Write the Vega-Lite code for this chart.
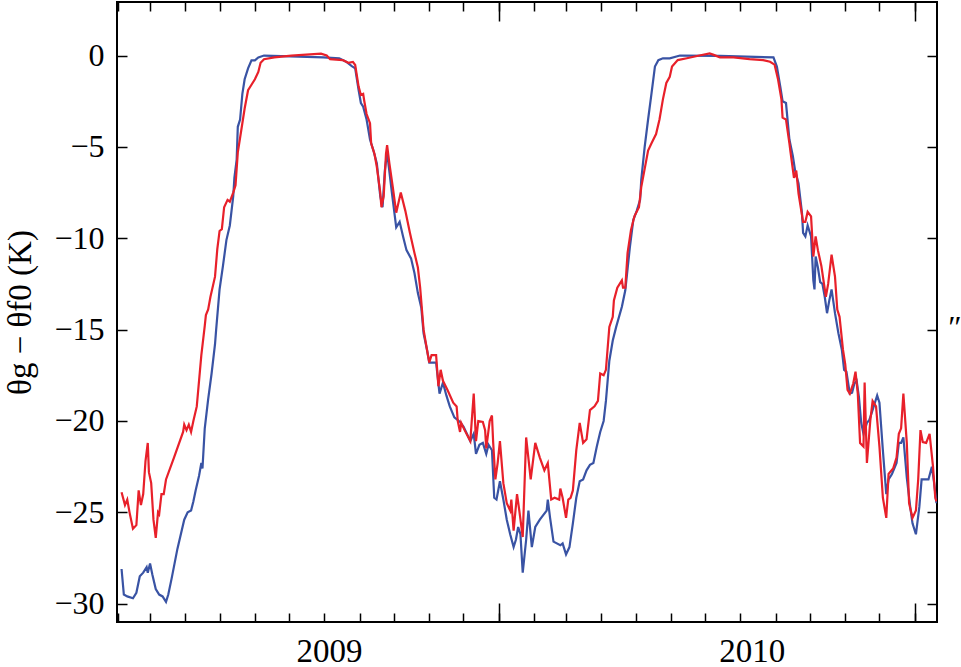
{
  "$schema": "https://vega.github.io/schema/vega-lite/v6.json",
  "width": 820,
  "height": 620,
  "autosize": {"type": "none"},
  "padding": {"left": 117, "top": 2, "right": 24, "bottom": 45},
  "config": {
    "font": "Times New Roman, Liberation Serif, DejaVu Serif, serif",
    "view": {"stroke": "black", "strokeWidth": 2},
    "axis": {
      "grid": false,
      "domain": false,
      "tickColor": "black",
      "tickWidth": 1.5,
      "labelFont": "Times New Roman, Liberation Serif, DejaVu Serif, serif",
      "titleFont": "Times New Roman, Liberation Serif, DejaVu Serif, serif",
      "labelColor": "black",
      "titleColor": "black",
      "titleFontWeight": "normal"
    }
  },
  "datasets": {
    "s1": [
      {"date": "2009-02-04", "value": -28.1}, {"date": "2009-02-06", "value": -29.5}, {"date": "2009-02-09", "value": -29.6},
      {"date": "2009-02-14", "value": -29.7}, {"date": "2009-02-17", "value": -29.4}, {"date": "2009-02-20", "value": -28.5},
      {"date": "2009-02-23", "value": -28.3}, {"date": "2009-02-26", "value": -28.0}, {"date": "2009-02-27", "value": -28.3},
      {"date": "2009-03-01", "value": -27.8}, {"date": "2009-03-03", "value": -28.4}, {"date": "2009-03-06", "value": -29.2},
      {"date": "2009-03-09", "value": -29.5}, {"date": "2009-03-12", "value": -29.6}, {"date": "2009-03-15", "value": -29.9},
      {"date": "2009-03-17", "value": -29.5}, {"date": "2009-03-20", "value": -28.6}, {"date": "2009-03-25", "value": -27.0},
      {"date": "2009-03-31", "value": -25.4}, {"date": "2009-04-03", "value": -25.0}, {"date": "2009-04-06", "value": -24.9},
      {"date": "2009-04-08", "value": -24.4}, {"date": "2009-04-10", "value": -23.8}, {"date": "2009-04-13", "value": -23.0},
      {"date": "2009-04-15", "value": -22.3}, {"date": "2009-04-16", "value": -22.6}, {"date": "2009-04-18", "value": -20.4},
      {"date": "2009-04-21", "value": -18.8}, {"date": "2009-04-24", "value": -17.4}, {"date": "2009-04-27", "value": -15.8},
      {"date": "2009-04-28", "value": -15.0}, {"date": "2009-05-01", "value": -12.8}, {"date": "2009-05-04", "value": -11.5},
      {"date": "2009-05-07", "value": -10.1}, {"date": "2009-05-10", "value": -9.3}, {"date": "2009-05-13", "value": -7.7},
      {"date": "2009-05-14", "value": -6.7}, {"date": "2009-05-16", "value": -5.7}, {"date": "2009-05-17", "value": -3.9},
      {"date": "2009-05-19", "value": -3.5}, {"date": "2009-05-21", "value": -2.1}, {"date": "2009-05-23", "value": -1.3},
      {"date": "2009-05-26", "value": -0.7}, {"date": "2009-05-29", "value": -0.26}, {"date": "2009-06-01", "value": -0.26},
      {"date": "2009-06-04", "value": -0.1}, {"date": "2009-06-09", "value": 0}, {"date": "2009-07-02", "value": -0.05},
      {"date": "2009-07-31", "value": -0.1}, {"date": "2009-08-14", "value": -0.15}, {"date": "2009-08-20", "value": -0.34},
      {"date": "2009-08-25", "value": -0.58}, {"date": "2009-08-28", "value": -0.7}, {"date": "2009-08-31", "value": -1.89},
      {"date": "2009-09-02", "value": -2.6}, {"date": "2009-09-04", "value": -2.8}, {"date": "2009-09-07", "value": -3.5},
      {"date": "2009-09-10", "value": -4.6}, {"date": "2009-09-13", "value": -5.2}, {"date": "2009-09-16", "value": -5.9},
      {"date": "2009-09-19", "value": -7.7}, {"date": "2009-09-21", "value": -8.3}, {"date": "2009-09-23", "value": -6.3},
      {"date": "2009-09-25", "value": -5.3}, {"date": "2009-09-29", "value": -7.4}, {"date": "2009-10-03", "value": -9.4},
      {"date": "2009-10-06", "value": -9.1}, {"date": "2009-10-09", "value": -9.9}, {"date": "2009-10-12", "value": -10.65},
      {"date": "2009-10-16", "value": -11.1}, {"date": "2009-10-19", "value": -11.9}, {"date": "2009-10-22", "value": -13.0},
      {"date": "2009-10-25", "value": -13.8}, {"date": "2009-10-27", "value": -15.2}, {"date": "2009-10-30", "value": -16.1},
      {"date": "2009-11-01", "value": -16.8}, {"date": "2009-11-07", "value": -16.8}, {"date": "2009-11-10", "value": -18.5},
      {"date": "2009-11-13", "value": -17.9}, {"date": "2009-11-16", "value": -18.6}, {"date": "2009-11-19", "value": -19.2},
      {"date": "2009-11-23", "value": -19.8}, {"date": "2009-11-28", "value": -20.05}, {"date": "2009-12-01", "value": -20.3},
      {"date": "2009-12-04", "value": -20.7}, {"date": "2009-12-07", "value": -21.1}, {"date": "2009-12-10", "value": -20.7},
      {"date": "2009-12-12", "value": -21.8}, {"date": "2009-12-15", "value": -21.3}, {"date": "2009-12-18", "value": -21.2},
      {"date": "2009-12-21", "value": -21.8}, {"date": "2009-12-23", "value": -21.3}, {"date": "2009-12-26", "value": -21.6},
      {"date": "2009-12-28", "value": -24.2}, {"date": "2009-12-30", "value": -24.3}, {"date": "2010-01-02", "value": -23.3},
      {"date": "2010-01-05", "value": -24.3}, {"date": "2010-01-08", "value": -25.4}, {"date": "2010-01-11", "value": -26.2},
      {"date": "2010-01-14", "value": -26.9}, {"date": "2010-01-16", "value": -26.5}, {"date": "2010-01-18", "value": -25.8},
      {"date": "2010-01-20", "value": -26.2}, {"date": "2010-01-22", "value": -28.3}, {"date": "2010-01-25", "value": -26.5},
      {"date": "2010-01-27", "value": -24.9}, {"date": "2010-01-30", "value": -26.9}, {"date": "2010-02-02", "value": -25.8},
      {"date": "2010-02-06", "value": -25.4}, {"date": "2010-02-12", "value": -24.9}, {"date": "2010-02-13", "value": -24.3},
      {"date": "2010-02-15", "value": -25.3}, {"date": "2010-02-18", "value": -26.6}, {"date": "2010-02-24", "value": -26.8},
      {"date": "2010-02-26", "value": -26.7}, {"date": "2010-03-01", "value": -27.3}, {"date": "2010-03-04", "value": -26.9},
      {"date": "2010-03-07", "value": -25.6}, {"date": "2010-03-10", "value": -24.2}, {"date": "2010-03-13", "value": -23.3},
      {"date": "2010-03-16", "value": -23.2}, {"date": "2010-03-19", "value": -22.7}, {"date": "2010-03-22", "value": -22.4},
      {"date": "2010-03-25", "value": -22.3}, {"date": "2010-03-28", "value": -21.4}, {"date": "2010-03-31", "value": -20.6},
      {"date": "2010-04-03", "value": -20.0}, {"date": "2010-04-05", "value": -18.9}, {"date": "2010-04-08", "value": -16.7},
      {"date": "2010-04-11", "value": -15.6}, {"date": "2010-04-14", "value": -14.85}, {"date": "2010-04-19", "value": -13.75},
      {"date": "2010-04-22", "value": -12.85}, {"date": "2010-04-26", "value": -10.5}, {"date": "2010-04-29", "value": -9.0},
      {"date": "2010-05-02", "value": -8.5}, {"date": "2010-05-05", "value": -7.9}, {"date": "2010-05-06", "value": -6.8},
      {"date": "2010-05-09", "value": -5.0}, {"date": "2010-05-12", "value": -3.5}, {"date": "2010-05-15", "value": -2.07},
      {"date": "2010-05-18", "value": -0.6}, {"date": "2010-05-21", "value": -0.25}, {"date": "2010-05-25", "value": -0.15},
      {"date": "2010-05-31", "value": -0.15}, {"date": "2010-06-09", "value": 0}, {"date": "2010-07-14", "value": -0.02},
      {"date": "2010-08-30", "value": -0.1}, {"date": "2010-09-02", "value": -0.6}, {"date": "2010-09-05", "value": -1.7},
      {"date": "2010-09-07", "value": -2.5}, {"date": "2010-09-10", "value": -2.6}, {"date": "2010-09-13", "value": -4.6},
      {"date": "2010-09-16", "value": -5.5}, {"date": "2010-09-18", "value": -6.3}, {"date": "2010-09-21", "value": -7.0},
      {"date": "2010-09-24", "value": -8.6}, {"date": "2010-09-25", "value": -9.7}, {"date": "2010-09-27", "value": -9.9},
      {"date": "2010-09-29", "value": -9.3}, {"date": "2010-10-02", "value": -9.9}, {"date": "2010-10-04", "value": -12.3},
      {"date": "2010-10-05", "value": -12.8}, {"date": "2010-10-06", "value": -11.0}, {"date": "2010-10-08", "value": -11.6},
      {"date": "2010-10-10", "value": -12.4}, {"date": "2010-10-12", "value": -12.5}, {"date": "2010-10-14", "value": -13.2},
      {"date": "2010-10-16", "value": -14.1}, {"date": "2010-10-18", "value": -13.4}, {"date": "2010-10-20", "value": -12.8},
      {"date": "2010-10-23", "value": -14.1}, {"date": "2010-10-26", "value": -15.2}, {"date": "2010-10-29", "value": -16.1},
      {"date": "2010-10-31", "value": -17.2}, {"date": "2010-11-02", "value": -17.3}, {"date": "2010-11-05", "value": -18.5},
      {"date": "2010-11-07", "value": -18.45}, {"date": "2010-11-09", "value": -17.95}, {"date": "2010-11-11", "value": -17.8},
      {"date": "2010-11-13", "value": -18.7}, {"date": "2010-11-15", "value": -20.1}, {"date": "2010-11-17", "value": -20.7},
      {"date": "2010-11-20", "value": -20.1}, {"date": "2010-11-22", "value": -19.96}, {"date": "2010-11-24", "value": -19.6},
      {"date": "2010-11-27", "value": -19.0}, {"date": "2010-11-29", "value": -18.6}, {"date": "2010-12-01", "value": -19.0},
      {"date": "2010-12-04", "value": -21.6}, {"date": "2010-12-07", "value": -24.0}, {"date": "2010-12-09", "value": -23.2},
      {"date": "2010-12-12", "value": -22.9}, {"date": "2010-12-16", "value": -22.3}, {"date": "2010-12-18", "value": -21.2},
      {"date": "2010-12-20", "value": -21.2}, {"date": "2010-12-22", "value": -20.9}, {"date": "2010-12-25", "value": -23.1},
      {"date": "2010-12-28", "value": -24.7}, {"date": "2010-12-30", "value": -25.6}, {"date": "2011-01-02", "value": -26.2},
      {"date": "2011-01-05", "value": -24.7}, {"date": "2011-01-07", "value": -23.2}, {"date": "2011-01-13", "value": -23.2},
      {"date": "2011-01-16", "value": -22.5}, {"date": "2011-01-18", "value": -23.4}, {"date": "2011-01-20", "value": -24.5}
    ],
    "s2": [
      {"date": "2009-02-04", "value": -23.9}, {"date": "2009-02-07", "value": -24.6}, {"date": "2009-02-09", "value": -24.3},
      {"date": "2009-02-11", "value": -25.0}, {"date": "2009-02-14", "value": -25.9}, {"date": "2009-02-17", "value": -25.7},
      {"date": "2009-02-19", "value": -23.8}, {"date": "2009-02-21", "value": -24.6}, {"date": "2009-02-23", "value": -24.0},
      {"date": "2009-02-25", "value": -22.2}, {"date": "2009-02-27", "value": -21.2}, {"date": "2009-02-28", "value": -22.8},
      {"date": "2009-03-02", "value": -23.4}, {"date": "2009-03-04", "value": -25.4}, {"date": "2009-03-06", "value": -26.4},
      {"date": "2009-03-08", "value": -25.0}, {"date": "2009-03-09", "value": -25.1}, {"date": "2009-03-11", "value": -24.0},
      {"date": "2009-03-13", "value": -24.0}, {"date": "2009-03-15", "value": -23.2}, {"date": "2009-03-22", "value": -22.0},
      {"date": "2009-03-30", "value": -20.6}, {"date": "2009-03-31", "value": -20.2}, {"date": "2009-04-02", "value": -20.5},
      {"date": "2009-04-04", "value": -20.2}, {"date": "2009-04-06", "value": -20.6}, {"date": "2009-04-08", "value": -20.0},
      {"date": "2009-04-11", "value": -19.2}, {"date": "2009-04-15", "value": -16.4}, {"date": "2009-04-18", "value": -14.8},
      {"date": "2009-04-19", "value": -14.2}, {"date": "2009-04-21", "value": -13.9}, {"date": "2009-04-23", "value": -13.2},
      {"date": "2009-04-27", "value": -12.1}, {"date": "2009-04-29", "value": -10.6}, {"date": "2009-05-01", "value": -9.6},
      {"date": "2009-05-03", "value": -9.5}, {"date": "2009-05-05", "value": -8.3}, {"date": "2009-05-08", "value": -7.9},
      {"date": "2009-05-10", "value": -8.0}, {"date": "2009-05-13", "value": -7.5}, {"date": "2009-05-15", "value": -7.1},
      {"date": "2009-05-17", "value": -5.3}, {"date": "2009-05-20", "value": -4.1}, {"date": "2009-05-23", "value": -2.9},
      {"date": "2009-05-26", "value": -1.9}, {"date": "2009-05-29", "value": -1.6}, {"date": "2009-06-01", "value": -1.3},
      {"date": "2009-06-04", "value": -0.9}, {"date": "2009-06-06", "value": -0.4}, {"date": "2009-06-09", "value": -0.2},
      {"date": "2009-06-18", "value": -0.1}, {"date": "2009-07-03", "value": 0}, {"date": "2009-07-29", "value": 0.1},
      {"date": "2009-08-03", "value": 0}, {"date": "2009-08-06", "value": -0.2}, {"date": "2009-08-17", "value": -0.25},
      {"date": "2009-08-22", "value": -0.4}, {"date": "2009-08-26", "value": -0.35}, {"date": "2009-08-28", "value": -0.52},
      {"date": "2009-08-31", "value": -1.7}, {"date": "2009-09-02", "value": -2.16}, {"date": "2009-09-04", "value": -2.1},
      {"date": "2009-09-05", "value": -2.5}, {"date": "2009-09-07", "value": -3.2}, {"date": "2009-09-10", "value": -3.7},
      {"date": "2009-09-11", "value": -4.8}, {"date": "2009-09-14", "value": -5.4}, {"date": "2009-09-16", "value": -6.1},
      {"date": "2009-09-19", "value": -7.5}, {"date": "2009-09-20", "value": -8.3}, {"date": "2009-09-22", "value": -7.7},
      {"date": "2009-09-24", "value": -5.4}, {"date": "2009-09-25", "value": -4.9}, {"date": "2009-09-27", "value": -5.9},
      {"date": "2009-09-30", "value": -7.2}, {"date": "2009-10-03", "value": -8.6}, {"date": "2009-10-07", "value": -7.5},
      {"date": "2009-10-11", "value": -8.5}, {"date": "2009-10-15", "value": -9.7}, {"date": "2009-10-19", "value": -10.8},
      {"date": "2009-10-22", "value": -11.6}, {"date": "2009-10-24", "value": -12.7}, {"date": "2009-10-27", "value": -15.0},
      {"date": "2009-10-30", "value": -16.1}, {"date": "2009-11-01", "value": -16.8}, {"date": "2009-11-03", "value": -16.4},
      {"date": "2009-11-07", "value": -16.4}, {"date": "2009-11-09", "value": -18.1}, {"date": "2009-11-11", "value": -17.2},
      {"date": "2009-11-13", "value": -17.8}, {"date": "2009-11-17", "value": -18.3}, {"date": "2009-11-22", "value": -19.0},
      {"date": "2009-11-25", "value": -19.2}, {"date": "2009-11-26", "value": -20.0}, {"date": "2009-11-28", "value": -20.6},
      {"date": "2009-11-29", "value": -20.1}, {"date": "2009-12-02", "value": -20.5}, {"date": "2009-12-07", "value": -21.1},
      {"date": "2009-12-10", "value": -18.5}, {"date": "2009-12-12", "value": -21.1}, {"date": "2009-12-14", "value": -20.0},
      {"date": "2009-12-18", "value": -20.05}, {"date": "2009-12-20", "value": -20.5}, {"date": "2009-12-21", "value": -21.5},
      {"date": "2009-12-24", "value": -20.0}, {"date": "2009-12-26", "value": -19.7}, {"date": "2009-12-27", "value": -21.1},
      {"date": "2009-12-29", "value": -23.2}, {"date": "2009-12-31", "value": -22.3}, {"date": "2010-01-02", "value": -21.1},
      {"date": "2010-01-05", "value": -23.4}, {"date": "2010-01-08", "value": -24.5}, {"date": "2010-01-11", "value": -24.9},
      {"date": "2010-01-12", "value": -24.3}, {"date": "2010-01-14", "value": -26.0}, {"date": "2010-01-17", "value": -24.0},
      {"date": "2010-01-19", "value": -24.9}, {"date": "2010-01-22", "value": -26.35}, {"date": "2010-01-25", "value": -20.9},
      {"date": "2010-01-29", "value": -23.2}, {"date": "2010-02-02", "value": -21.2}, {"date": "2010-02-06", "value": -22.0},
      {"date": "2010-02-10", "value": -22.7}, {"date": "2010-02-13", "value": -22.3}, {"date": "2010-02-16", "value": -24.3},
      {"date": "2010-02-19", "value": -24.2}, {"date": "2010-02-23", "value": -24.3}, {"date": "2010-02-24", "value": -23.7},
      {"date": "2010-02-26", "value": -24.2}, {"date": "2010-03-01", "value": -25.3}, {"date": "2010-03-03", "value": -24.3},
      {"date": "2010-03-05", "value": -24.2}, {"date": "2010-03-07", "value": -23.8}, {"date": "2010-03-10", "value": -21.6},
      {"date": "2010-03-13", "value": -20.1}, {"date": "2010-03-16", "value": -21.2}, {"date": "2010-03-19", "value": -21.0},
      {"date": "2010-03-22", "value": -19.4}, {"date": "2010-03-26", "value": -19.2}, {"date": "2010-03-29", "value": -18.9},
      {"date": "2010-03-31", "value": -17.4}, {"date": "2010-04-03", "value": -17.5}, {"date": "2010-04-05", "value": -17.2},
      {"date": "2010-04-08", "value": -14.85}, {"date": "2010-04-11", "value": -14.3}, {"date": "2010-04-12", "value": -13.4},
      {"date": "2010-04-15", "value": -12.7}, {"date": "2010-04-19", "value": -12.3}, {"date": "2010-04-20", "value": -12.7},
      {"date": "2010-04-22", "value": -12.7}, {"date": "2010-04-24", "value": -10.8}, {"date": "2010-04-27", "value": -9.55},
      {"date": "2010-04-30", "value": -8.8}, {"date": "2010-05-04", "value": -8.3}, {"date": "2010-05-06", "value": -7.2},
      {"date": "2010-05-09", "value": -6.2}, {"date": "2010-05-12", "value": -5.2}, {"date": "2010-05-15", "value": -4.8},
      {"date": "2010-05-19", "value": -4.3}, {"date": "2010-05-22", "value": -3.5}, {"date": "2010-05-25", "value": -2.4},
      {"date": "2010-05-28", "value": -1.5}, {"date": "2010-05-31", "value": -1.16}, {"date": "2010-06-02", "value": -0.6},
      {"date": "2010-06-07", "value": -0.25}, {"date": "2010-06-15", "value": -0.15}, {"date": "2010-06-26", "value": 0},
      {"date": "2010-07-05", "value": 0.12}, {"date": "2010-07-08", "value": 0.05}, {"date": "2010-07-14", "value": -0.1},
      {"date": "2010-07-26", "value": -0.1}, {"date": "2010-08-09", "value": -0.2}, {"date": "2010-08-21", "value": -0.25},
      {"date": "2010-08-27", "value": -0.34}, {"date": "2010-08-31", "value": -0.5}, {"date": "2010-09-03", "value": -1.3},
      {"date": "2010-09-06", "value": -2.4}, {"date": "2010-09-07", "value": -3.4}, {"date": "2010-09-10", "value": -3.5},
      {"date": "2010-09-13", "value": -4.8}, {"date": "2010-09-14", "value": -5.3}, {"date": "2010-09-17", "value": -6.7},
      {"date": "2010-09-19", "value": -6.3}, {"date": "2010-09-21", "value": -7.55}, {"date": "2010-09-25", "value": -9.1},
      {"date": "2010-09-27", "value": -9.1}, {"date": "2010-09-29", "value": -8.55}, {"date": "2010-10-02", "value": -8.8},
      {"date": "2010-10-04", "value": -11.0}, {"date": "2010-10-06", "value": -9.9}, {"date": "2010-10-08", "value": -10.65},
      {"date": "2010-10-11", "value": -11.5}, {"date": "2010-10-15", "value": -13.2}, {"date": "2010-10-17", "value": -12.5},
      {"date": "2010-10-20", "value": -10.9}, {"date": "2010-10-23", "value": -12.1}, {"date": "2010-10-25", "value": -13.9},
      {"date": "2010-10-27", "value": -14.3}, {"date": "2010-10-30", "value": -16.1}, {"date": "2010-11-01", "value": -16.9},
      {"date": "2010-11-03", "value": -18.3}, {"date": "2010-11-05", "value": -18.5}, {"date": "2010-11-08", "value": -17.95},
      {"date": "2010-11-10", "value": -17.3}, {"date": "2010-11-12", "value": -18.5}, {"date": "2010-11-14", "value": -21.2},
      {"date": "2010-11-17", "value": -21.4}, {"date": "2010-11-18", "value": -17.9}, {"date": "2010-11-20", "value": -22.3},
      {"date": "2010-11-23", "value": -19.96}, {"date": "2010-11-25", "value": -18.9}, {"date": "2010-11-28", "value": -19.2},
      {"date": "2010-12-01", "value": -21.4}, {"date": "2010-12-04", "value": -24.2}, {"date": "2010-12-07", "value": -25.3},
      {"date": "2010-12-09", "value": -22.9}, {"date": "2010-12-13", "value": -22.6}, {"date": "2010-12-16", "value": -22.0},
      {"date": "2010-12-18", "value": -20.7}, {"date": "2010-12-20", "value": -20.4}, {"date": "2010-12-22", "value": -18.5},
      {"date": "2010-12-25", "value": -21.2}, {"date": "2010-12-27", "value": -24.5}, {"date": "2010-12-30", "value": -25.3},
      {"date": "2011-01-02", "value": -24.9}, {"date": "2011-01-04", "value": -23.2}, {"date": "2011-01-06", "value": -20.5},
      {"date": "2011-01-08", "value": -21.15}, {"date": "2011-01-11", "value": -21.2}, {"date": "2011-01-14", "value": -20.7},
      {"date": "2011-01-17", "value": -22.5}, {"date": "2011-01-19", "value": -24.2}, {"date": "2011-01-20", "value": -24.4}
    ]
  },
  "layer": [
    {
      "mark": {"type": "rule", "color": "black", "strokeWidth": 1, "strokeDash": [1.5, 2.5]},
      "encoding": {
        "y": {"datum": 0, "type": "quantitative", "scale": {"domain": [-31.0, 2.93]}, "axis": null}
      }
    },
    {
      "data": {"name": "s1"},
      "mark": {"type": "line", "color": "#3953a4", "strokeWidth": 2.2, "clip": true},
      "encoding": {
        "x": {
          "field": "date", "type": "temporal",
          "scale": {"type": "utc", "domain": [{"year": 2009, "month": 1, "date": 31, "utc": true}, {"year": 2011, "month": 1, "date": 20, "hours": 12, "utc": true}]},
          "axis": {"orient": "bottom", "tickCount": {"interval": "month", "step": 1}, "tickSize": -9, "labels": false, "title": null}
        },
        "y": {
          "field": "value", "type": "quantitative",
          "scale": {"domain": [-31.0, 2.93]},
          "axis": {
            "orient": "left", "values": [-30, -25, -20, -15, -10, -5, 0],
            "tickSize": -10, "labelPadding": 23, "labelFontSize": 32,
            "title": "θg − θf0 (K)", "titleFontSize": 33, "titlePadding": 16
          }
        }
      }
    },
    {
      "data": {"name": "s2"},
      "mark": {"type": "line", "color": "#e8202a", "strokeWidth": 2.2, "clip": true},
      "encoding": {
        "x": {
          "field": "date", "type": "temporal",
          "scale": {"type": "utc", "domain": [{"year": 2009, "month": 1, "date": 31, "utc": true}, {"year": 2011, "month": 1, "date": 20, "hours": 12, "utc": true}]},
          "axis": {"orient": "top", "tickCount": {"interval": "month", "step": 1}, "tickSize": -9, "labels": false, "title": null}
        },
        "y": {
          "field": "value", "type": "quantitative",
          "scale": {"domain": [-31.0, 2.93]},
          "axis": {
            "orient": "right", "values": [-30, -25, -20, -15, -10, -5, 0],
            "tickSize": -10, "labels": false,
            "title": "″", "titleAngle": 0, "titleAlign": "left", "titleBaseline": "top",
            "titleFontSize": 32, "titleFontStyle": "italic", "titlePadding": 8
          }
        }
      }
    },
    {
      "data": {"name": "s1"},
      "mark": {"type": "line", "opacity": 0},
      "encoding": {
        "x": {
          "field": "date", "type": "temporal",
          "scale": {"type": "utc", "domain": [{"year": 2009, "month": 1, "date": 31, "utc": true}, {"year": 2011, "month": 1, "date": 20, "hours": 12, "utc": true}]},
          "axis": {"orient": "bottom", "tickCount": {"interval": "year", "step": 1}, "tickSize": -19, "labels": false, "title": null}
        },
        "y": {"field": "value", "type": "quantitative", "scale": {"domain": [-31.0, 2.93]}, "axis": null}
      }
    },
    {
      "data": {"name": "s1"},
      "mark": {"type": "line", "opacity": 0},
      "encoding": {
        "x": {
          "field": "date", "type": "temporal",
          "scale": {"type": "utc", "domain": [{"year": 2009, "month": 1, "date": 31, "utc": true}, {"year": 2011, "month": 1, "date": 20, "hours": 12, "utc": true}]},
          "axis": {
            "orient": "bottom",
            "values": [{"year": 2009, "month": 8, "date": 5, "utc": true}, {"year": 2010, "month": 8, "date": 11, "utc": true}],
            "format": "%Y", "ticks": false, "labelPadding": 13, "labelFontSize": 33,
            "labelFlush": false, "title": null
          }
        },
        "y": {"field": "value", "type": "quantitative", "scale": {"domain": [-31.0, 2.93]}, "axis": null}
      }
    },
    {
      "data": {"name": "s1"},
      "mark": {"type": "line", "opacity": 0},
      "encoding": {
        "x": {
          "field": "date", "type": "temporal",
          "scale": {"type": "utc", "domain": [{"year": 2009, "month": 1, "date": 31, "utc": true}, {"year": 2011, "month": 1, "date": 20, "hours": 12, "utc": true}]},
          "axis": {"orient": "top", "tickCount": {"interval": "year", "step": 1}, "tickSize": -19, "labels": false, "title": null}
        },
        "y": {"field": "value", "type": "quantitative", "scale": {"domain": [-31.0, 2.93]}, "axis": null}
      }
    }
  ],
  "resolve": {"axis": {"x": "independent", "y": "independent"}}
}
